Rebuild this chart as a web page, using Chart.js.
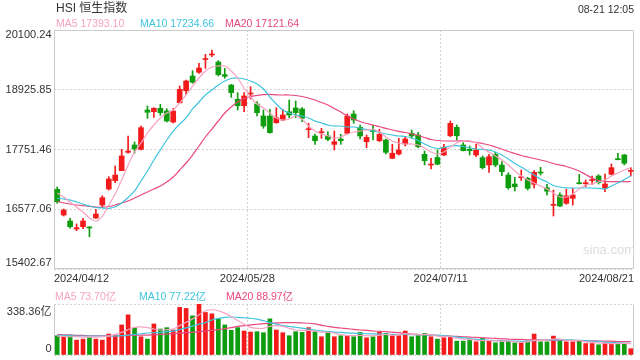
<!DOCTYPE html>
<html>
<head>
<meta charset="utf-8">
<script src="https://cdn.jsdelivr.net/npm/chart.js@4.4.1/dist/chart.umd.min.js"></script>
<style>
  body { margin: 0; background: #fff; }
  #wrap { position: relative; width: 640px; height: 360px; overflow: hidden;
          font-family: "Liberation Sans", Arial, "Noto Sans CJK SC", sans-serif; color: #333; }
  canvas { position: absolute; left: 0; top: 0; }
  .t { position: absolute; white-space: nowrap; line-height: 1; }
  .lg { font-size: 10.5px; }
</style>
</head>
<body>
<div id="wrap">
  <canvas id="kChart" width="640" height="360"></canvas>
  <canvas id="volChart" width="640" height="360"></canvas>

  <div class="t" style="left:56px; top:2px; font-size:12px;">HSI 恒生指数</div>
  <div class="t lg" style="right:6px; top:3.6px;">08-21 12:05</div>

  <div class="t lg" style="left:56px; top:18px; color:#f7a3c2;">MA5 17393.10</div>
  <div class="t lg" style="left:140px; top:18px; color:#3ec4de;">MA10 17234.66</div>
  <div class="t lg" style="left:225px; top:18px; color:#e9487f;">MA20 17121.64</div>

  <div class="t lg" style="left:55px; top:290.5px; color:#f7a3c2;">MA5 73.70亿</div>
  <div class="t lg" style="left:139px; top:290.5px; color:#3ec4de;">MA10 77.22亿</div>
  <div class="t lg" style="left:226px; top:290.5px; color:#e9487f;">MA20 88.97亿</div>

  <div class="t" style="left:583px; top:243px; font-size:13px; color:#dcdcdc;">sina.com</div>
</div>

<script>
// tick labels
const dateTicks = ['2024/04/12', '2024/05/28', '2024/07/11', '2024/08/21'];
const priceTicks = [15402.67, 16577.06, 17751.46, 18925.85, 20100.24];
const volTicks = [0, 338.36];

// daily candles, 2024/04/12 .. 2024/08/21
const openP = [16969,16464,16346,16189,16234,16228,16405,16660,16975,17138,
  17335,17696,17840,17755,18528,18494,18561,18508,18292,18671,
  18907,19196,19269,19520,19609,19471,19222,19019,18738,18612,
  18842,18646,18410,18410,18278,18331,18494,18567,18548,18141,
  18016,18082,18016,17853,17958,18070,18449,18188,17904,18121,
  17924,17938,17579,17663,17860,18070,18036,17657,17446,17594,
  17643,18022,18188,17840,17755,17643,17590,17447,17657,17447,
  17250,17073,17197,17185,17067,17303,16998,16654,16857,16694,
  16792,17093,17079,17142,17231,16989,17264,17565,17643,17323];
const highP = [17014,16582,16399,16287,16399,16234,16576,16843,17217,17427,
  17755,18017,17899,18213,18606,18573,18640,18553,18561,19000,
  19117,19300,19446,19623,19707,19497,19347,19030,18868,18868,
  18986,18691,18528,18542,18573,18542,18724,18705,18573,18266,
  18056,18168,18101,18115,18050,18449,18514,18233,18036,18227,
  18148,17958,17854,17972,18004,18135,18089,17722,17580,17742,
  17854,18312,18233,17885,17820,17854,17624,17657,17696,17512,
  17295,17205,17349,17205,17335,17401,17067,16955,16902,16969,
  16989,17264,17152,17231,17256,17270,17467,17677,17657,17394];
const lowP = [16694,16444,16203,16156,16195,16038,16399,16627,16955,17099,
  17335,17677,17677,17742,18364,18384,18424,18292,18272,18660,
  18836,19053,19249,19347,19575,19196,19151,18777,18528,18494,
  18744,18410,18168,18070,18266,18318,18376,18376,18298,17984,
  17853,17972,17924,17742,17853,18050,18266,17958,17787,17938,
  17904,17663,17571,17643,17820,17972,17787,17447,17368,17450,
  17629,18004,17938,17722,17643,17610,17368,17303,17414,17236,
  16969,16936,17142,16955,16998,17250,16857,16444,16627,16674,
  16660,17073,17020,17067,17073,16922,17250,17545,17447,17231];
const closeP = [16725,16562,16234,16215,16346,16209,16483,16804,17172,17250,
  17624,17722,17761,18180,18483,18561,18475,18311,18508,18935,
  19098,19072,19353,19536,19623,19222,19190,18868,18612,18803,
  18862,18475,18213,18082,18376,18430,18430,18475,18364,18154,
  17924,18095,17952,17904,17924,18410,18331,18017,17991,18101,
  18050,17696,17677,17742,17958,18017,17807,17532,17456,17462,
  17795,18266,18022,17728,17728,17742,17394,17610,17447,17315,
  17001,17020,17205,16989,17303,17289,16932,16666,16641,16843,
  16857,17079,17093,17158,17099,17073,17394,17551,17480,17335];

// price moving averages as drawn
const ma5 = [16896,16818,16720,16621,16523,16405,16346,16444,16661,16877,
  17152,17447,17702,17879,18076,18233,18371,18469,18528,18665,
  18823,18999,19157,19294,19373,19393,19393,19294,19157,18960,
  18783,18646,18567,18469,18371,18331,18351,18410,18351,18213,
  18115,18056,18017,17978,17997,18056,18095,18115,18135,18154,
  18095,17997,17919,17879,17860,17860,17840,17781,17702,17663,
  17702,17801,17879,17919,17919,17879,17781,17702,17624,17545,
  17447,17329,17231,17152,17093,17034,16975,16896,16818,16818,
  16877,16975,17054,17073,17113,17152,17231,17290,17349,17393];
const ma10 = [16792,16779,16759,16720,16680,16641,16611,16602,16596,16625,
  16700,16808,16936,17132,17329,17545,17742,17938,18115,18253,
  18371,18548,18685,18823,18921,19019,19098,19147,19157,19137,
  19098,19039,18941,18783,18646,18528,18469,18430,18410,18371,
  18312,18272,18233,18213,18213,18194,18194,18174,18145,18115,
  18086,18056,18036,18017,18007,17978,17928,17860,17801,17771,
  17791,17820,17826,17811,17781,17761,17752,17742,17702,17643,
  17565,17476,17408,17329,17250,17172,17113,17044,17014,16999,
  16995,16995,16995,16995,16989,16975,17034,17093,17162,17235];
const ma20 = [16729,16700,16680,16661,16647,16635,16621,16615,16631,16661,
  16700,16739,16798,16857,16916,16975,17034,17113,17211,17349,
  17486,17643,17820,17997,18154,18312,18469,18587,18685,18754,
  18793,18813,18829,18833,18827,18823,18823,18813,18793,18764,
  18724,18675,18626,18557,18489,18410,18351,18302,18263,18233,
  18198,18168,18135,18109,18086,18056,18027,17987,17948,17928,
  17919,17919,17919,17919,17913,17889,17869,17840,17801,17761,
  17712,17673,17634,17604,17575,17545,17516,17476,17447,17418,
  17378,17329,17260,17191,17142,17123,17119,17119,17119,17122];

// turnover, 亿
const volume = [127.8,125.5,132.2,98.7,105.4,116.6,105.4,98.7,139.0,132.2,
  199.4,266.5,181.5,121.1,105.4,206.1,172.5,181.5,165.8,315.7,
  309.0,259.8,338.36,282.2,273.2,239.7,199.4,163.6,181.5,159.1,
  152.4,154.6,147.9,239.7,165.8,147.9,127.8,154.6,150.2,181.5,
  154.6,121.1,147.9,121.1,127.8,127.8,121.1,150.2,114.3,121.1,
  150.2,143.4,127.8,127.8,159.1,121.1,132.2,143.4,121.1,105.4,
  114.3,121.1,92.0,92.0,98.7,87.5,109.9,94.2,80.8,87.5,
  92.0,80.8,80.8,92.0,139.0,87.5,87.5,125.5,92.0,87.5,
  87.5,92.0,76,76,68,80,80,78,78,42];
const volMa5 = [125.5,123.3,121.1,121.1,118.8,118.8,118.8,121.1,125.5,136.7,
  150.2,168.1,183.7,186.0,181.5,172.5,165.8,168.1,172.5,194.9,
  217.3,239.7,266.5,293.4,300.1,293.4,277.7,255.3,228.5,203.9,
  183.7,177.0,177.0,190.4,194.9,190.4,177.0,165.8,163.6,163.6,
  159.1,152,151,145,135,129,129,130,128,127,
  131,136,131,134,142,136,134,137,135,125,
  123,121,111,105,104,98,96,96,94,92,
  93,87,84,87,97,96,97,106,106,96,
  96,97,87,84,80,78,76,76,77,73.7];
const volMa10 = [132,130,128,126,126,126,126,126,126,126,
  128,132,137,141,146,148,150,155,159,168,
  180,192,205,215,232,243,250,252,250,247,
  244,238,228,215,205,195,189,184,178,172,
  166,160,156,152,150,147,145,143,141,140,
  139,138,137,136,136,135,135,134,133,131,
  129,124,119,114,109,104,100,98,96,95,
  93,92,91,92,95,97,99,100,101,100,
  99,97,95,92,90,86,83,81,79,77.2];
const volMa20 = [136.7,134.5,132.2,130,130,127.8,127.8,127.8,127.8,127.8,
  127.8,130,130,132.2,132.2,134.5,136.7,139,141.2,145.7,
  147.9,150.2,154.6,159.1,163.6,168.1,174.8,181.5,190.4,194.9,
  199.4,203.9,208.3,210.6,212.8,215,215,215,212.8,210.6,
  206.1,197.1,190.4,183.7,179.2,174.8,170.3,165.8,163.6,159.1,
  156.9,154.6,152.4,147.9,143.4,139,136.7,134.5,132.2,130,
  127.8,125.5,123.3,121.1,118.8,116.6,114.3,112.1,109.9,107.6,
  105.4,103.2,103.2,100.9,100.9,98.7,98.7,96.4,96.4,96.4,
  96.4,94.2,94.2,94.2,92,92,92,89.7,89.7,89.0];

const UP = '#f21a1a';
const DOWN = '#0e9d0e';
const C_MA5 = '#f7a3c2';
const C_MA10 = '#3ec4de';
const C_MA20 = '#e9487f';
const GRID = '#d2d2d2';
const FONT = '"Liberation Sans", Arial, "Noto Sans CJK SC", sans-serif';

const xs = closeP.map((c, i) => i + 0.5);
const candleColors = closeP.map((c, i) => c >= openP[i] ? UP : DOWN);
const pts = arr => arr.map((v, i) => ({ x: xs[i], y: v }));

function maLine(label, arr, color) {
  return { type: 'line', label, data: pts(arr), borderColor: color, borderWidth: 1.2,
           pointRadius: 0, tension: 0.3, order: 0 };
}

// solid outer frame sides
const frame = {
  id: 'frame',
  beforeDatasetsDraw(chart, args, opts) {
    const a = chart.chartArea, ctx = chart.ctx;
    const L = Math.round(a.left) + 0.5, R = Math.round(a.right) - 0.5;
    const T = Math.round(a.top) + 0.5, B = Math.round(a.bottom) - 0.5;
    ctx.save();
    ctx.strokeStyle = '#cbcbcb';
    ctx.lineWidth = 1;
    ctx.beginPath();
    if (opts.sides.includes('t')) { ctx.moveTo(L, T); ctx.lineTo(R, T); }
    if (opts.sides.includes('b')) { ctx.moveTo(L, B); ctx.lineTo(R, B); }
    if (opts.sides.includes('l')) { ctx.moveTo(L, T); ctx.lineTo(L, B); }
    if (opts.sides.includes('r')) { ctx.moveTo(R, T); ctx.lineTo(R, B); }
    ctx.stroke();
    ctx.restore();
  }
};

// y labels, edge ones pulled inside the plot
const yLabels = {
  id: 'yLabels',
  afterDraw(chart, args, opts) {
    const s = chart.scales.y, ctx = chart.ctx;
    const last = s.ticks.length - 1;
    ctx.save();
    ctx.font = '11px ' + FONT;
    ctx.fillStyle = '#333';
    ctx.textAlign = 'right';
    ctx.textBaseline = 'middle';
    s.ticks.forEach((t, i) => {
      let y = s.getPixelForValue(t.value);
      if (i === 0) y -= opts.bottomShift;
      if (i === last) y += opts.topShift;
      ctx.fillText(opts.format(t.value), s.right - 2.5, y);
    });
    ctx.restore();
  }
};

const xGridColor = c => (c.index === 1 || c.index === 2) ? GRID : 'rgba(0,0,0,0)';
const setTicks = vals => s => { s.ticks = vals.map(v => ({ value: v })); };

new Chart(document.getElementById('kChart'), {
  type: 'bar',
  data: {
    datasets: [
      maLine('MA5', ma5, C_MA5),
      maLine('MA10', ma10, C_MA10),
      maLine('MA20', ma20, C_MA20),
      { label: 'body', data: xs.map((x, i) => ({ x, y: [openP[i], closeP[i]] })),
        backgroundColor: candleColors, barThickness: 5, minBarLength: 1, grouped: false, order: 1 },
      { label: 'wick', data: xs.map((x, i) => ({ x, y: [lowP[i], highP[i]] })),
        backgroundColor: candleColors, barThickness: 1, grouped: false, order: 2 }
    ]
  },
  options: {
    responsive: false,
    animation: false,
    layout: { padding: { left: 0, right: 6, top: 30, bottom: 71 } },
    plugins: {
      legend: { display: false },
      tooltip: { enabled: false },
      frame: { sides: 'tblr' },
      yLabels: { topShift: 5, bottomShift: 6, format: v => v.toFixed(2) }
    },
    scales: {
      x: {
        type: 'linear', min: 0, max: 90, offset: false,
        afterBuildTicks: setTicks([0, 30, 60, 90]),
        afterFit: s => { s.height = 20; },
        ticks: { align: 'inner', padding: 3, maxRotation: 0, autoSkip: false, color: '#333',
                 font: { size: 11, family: FONT }, callback: (v, i) => dateTicks[i] },
        grid: { offset: false, drawTicks: false, color: xGridColor },
        border: { display: false, dash: [2, 2] }
      },
      y: {
        min: priceTicks[0], max: priceTicks[priceTicks.length - 1],
        afterBuildTicks: setTicks(priceTicks),
        afterFit: s => { s.width = 54; },
        ticks: { display: false },
        grid: { drawTicks: false, color: GRID },
        border: { display: false, dash: [2, 2] }
      }
    }
  },
  plugins: [frame, yLabels]
});

new Chart(document.getElementById('volChart'), {
  type: 'bar',
  data: {
    datasets: [
      maLine('MA5', volMa5, C_MA5),
      maLine('MA10', volMa10, C_MA10),
      maLine('MA20', volMa20, C_MA20),
      { label: 'vol', data: pts(volume), backgroundColor: candleColors,
        barThickness: 4, grouped: false, order: 1 }
    ]
  },
  options: {
    responsive: false,
    animation: false,
    layout: { padding: { left: 0, right: 6, top: 304, bottom: 5 } },
    plugins: {
      legend: { display: false },
      tooltip: { enabled: false },
      frame: { sides: 'lr' },
      yLabels: { topShift: 7.5, bottomShift: 6, format: v => v === 0 ? '0' : v.toFixed(2) + '亿' }
    },
    scales: {
      x: {
        type: 'linear', min: 0, max: 90, offset: false,
        afterBuildTicks: setTicks([0, 30, 60, 90]),
        afterFit: s => { s.height = 0; },
        ticks: { display: false },
        grid: { offset: false, drawTicks: false, color: xGridColor },
        border: { display: false, dash: [2, 2] }
      },
      y: {
        min: volTicks[0], max: volTicks[1],
        afterBuildTicks: setTicks(volTicks),
        afterFit: s => { s.width = 54; },
        ticks: { display: false },
        grid: { drawTicks: false, color: GRID },
        border: { display: false, dash: [2, 2] }
      }
    }
  },
  plugins: [frame, yLabels]
});
</script>
</body>
</html>
